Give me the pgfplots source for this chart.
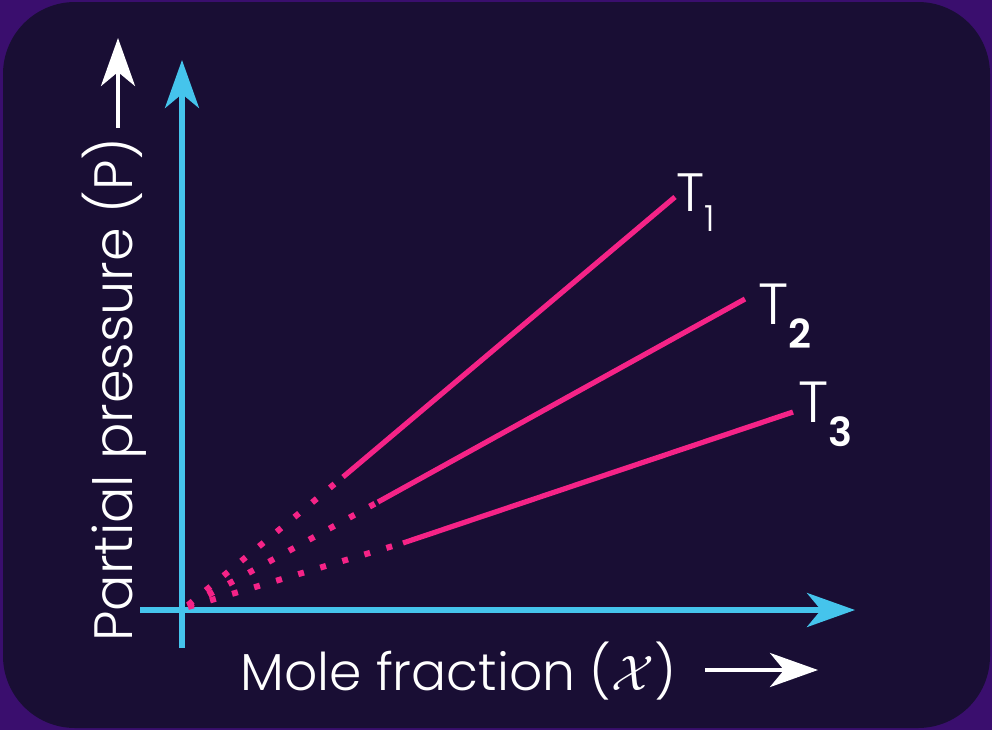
\documentclass[border=0pt]{standalone}
\usepackage{pgfplots}
\pgfplotsset{compat=1.18}
\usepackage{fontspec}
\setmainfont{Poppins}[UprightFont={* Light},BoldFont={* SemiBold}]
\usetikzlibrary{arrows.meta}
\definecolor{bgdark}{RGB}{25,14,52}
\definecolor{bgpurple}{RGB}{58,14,110}
\definecolor{axblue}{RGB}{69,196,236}
\definecolor{lpink}{RGB}{245,35,135}
\begin{document}
\begin{tikzpicture}
\begin{axis}[x=0.5pt,y=0.5pt,xmin=0,xmax=992,ymin=0,ymax=730,y dir=reverse,
  hide axis,clip=false,scale only axis]
\fill[bgpurple] (axis cs:0,0) rectangle (axis cs:992,730);
\fill[bgdark,rounded corners=36pt] (axis cs:3,2) rectangle (axis cs:990,728);
% axes
\addplot[axblue,line width=2.6pt,-{Stealth[length=24pt,width=17pt,inset=7pt]}] coordinates {(140,610) (855,610)};
\addplot[axblue,line width=2.6pt,-{Stealth[length=24pt,width=17pt,inset=7pt]}] coordinates {(182,648) (182,60)};
% label arrows
\addplot[white,line width=2.2pt,-{Stealth[length=24pt,width=17pt,inset=7pt]}] coordinates {(705,670) (818,670)};
\addplot[white,line width=2.2pt,-{Stealth[length=24pt,width=17pt,inset=7pt]}] coordinates {(118,128) (118,38)};
% dotted parts
\addplot[lpink,line width=3pt,line cap=butt,dash pattern=on 3pt off 8.5pt] coordinates {(188,605) (343,477)};
\addplot[lpink,line width=3pt,line cap=butt,dash pattern=on 3pt off 8.5pt] coordinates {(188,606) (378,502)};
\addplot[lpink,line width=3pt,line cap=butt,dash pattern=on 3pt off 8.5pt] coordinates {(188,607) (403,543)};
% solid parts
\addplot[lpink,line width=2.6pt] coordinates {(343,477) (675,197)};
\addplot[lpink,line width=2.6pt] coordinates {(378,502) (745,299)};
\addplot[lpink,line width=2.6pt] coordinates {(403,543) (793,412)};
% labels
\node[white,anchor=base west,inner sep=0pt,font=\fontsize{26}{26}\selectfont] at (axis cs:240,690) {Mole fraction ($\mathcal{X}$)};
\node[white,anchor=base west,inner sep=0pt,rotate=90,font=\fontsize{27}{27}\selectfont] at (axis cs:132,642) {Partial pressure (P)};
\node[white,anchor=base west,inner sep=0pt,font=\fontsize{27}{27}\selectfont] at (axis cs:676,211) {T\raisebox{-10pt}{\fontsize{18}{18}\selectfont 1}};
\node[white,anchor=base west,inner sep=0pt,font=\fontsize{29}{29}\selectfont] at (axis cs:758,324) {T\raisebox{-12pt}{\fontsize{20}{20}\selectfont\bfseries 2}};
\node[white,anchor=base west,inner sep=0pt,font=\fontsize{29}{29}\selectfont] at (axis cs:798,422) {T\raisebox{-12pt}{\fontsize{20}{20}\selectfont\bfseries 3}};
\end{axis}
\end{tikzpicture}
\end{document}
